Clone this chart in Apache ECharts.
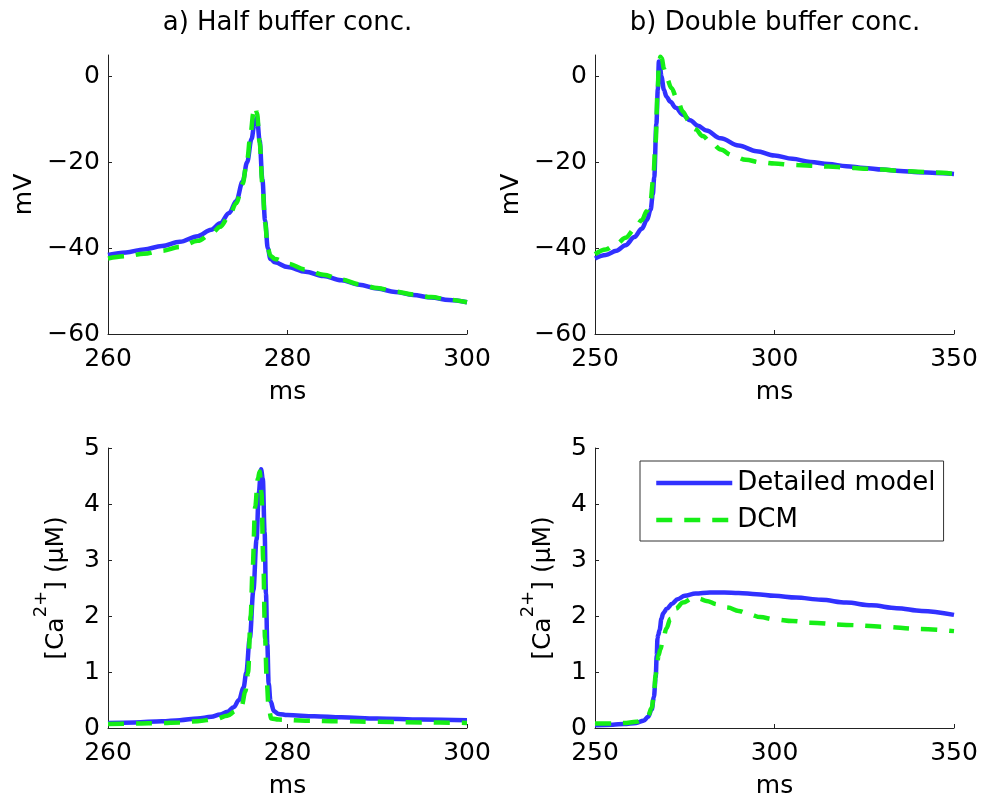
<!DOCTYPE html>
<html>
<head>
<meta charset="utf-8">
<script src="https://cdn.jsdelivr.net/npm/echarts@6/dist/echarts.min.js"></script>
<style>
  html, body { margin: 0; padding: 0; background: #ffffff; }
  #chart { width: 983px; height: 803px; }
</style>
</head>
<body>
<div id="chart"></div>
<script>
// ---- a) Half buffer concentration: membrane potential (mV) ----
const tHalfVDetailed = [260, 262, 264, 266, 268, 270, 271.5, 272.5, 273.5, 274.3, 275, 275.5, 276, 276.3, 276.6, 276.9, 277.2, 277.5, 277.8, 278.1, 278.6, 280, 282, 284, 286, 288, 290, 292, 294, 296, 298, 300];
const vHalfDetailed  = [-41.6, -41.0, -40.3, -39.5, -38.5, -37.2, -35.7, -34.2, -31.8, -29.0, -24.5, -20.0, -14.5, -11.3, -9.6, -15.0, -24.0, -33.5, -40.0, -42.5, -43.3, -44.4, -45.5, -46.5, -47.5, -48.5, -49.4, -50.2, -50.9, -51.5, -52.1, -52.6];
const tHalfVDCM = [260, 262, 264, 266, 268, 270, 271.5, 272.5, 273.5, 274.3, 275, 275.5, 275.9, 276.2, 276.4, 276.6, 276.9, 277.2, 277.5, 277.8, 278.1, 278.6, 280, 282, 284, 286, 288, 290, 292, 294, 296, 298, 300];
const vHalfDCM  = [-42.4, -41.9, -41.3, -40.6, -39.7, -38.3, -36.7, -35.0, -32.5, -29.5, -25.0, -19.5, -13.0, -8.5, -7.0, -8.5, -15.5, -25.0, -34.0, -40.0, -41.8, -42.5, -43.6, -45.0, -46.2, -47.3, -48.4, -49.3, -50.1, -50.8, -51.4, -52.0, -52.6];

// ---- b) Double buffer concentration: membrane potential (mV) ----
const tDoubleVDetailed = [250, 253, 256, 258.5, 261, 263, 264.5, 265.5, 266.1, 266.5, 267.1, 267.5, 267.8, 268.1, 268.5, 269.2, 269.9, 271, 272.5, 274.5, 276.5, 278.7, 281, 285, 290, 295, 300, 305, 310, 315, 320, 325, 330, 335, 340, 345, 350];
const vDoubleDetailed  = [-42.4, -41.6, -40.6, -39.3, -37.4, -35.5, -33.4, -31.0, -27.5, -23.5, -11.0, -3.0, 3.5, 2.2, 0.0, -3.1, -4.7, -5.9, -7.3, -8.9, -10.2, -11.5, -12.6, -14.4, -16.1, -17.4, -18.4, -19.2, -19.9, -20.4, -20.9, -21.3, -21.7, -22.0, -22.3, -22.5, -22.7];
const tDoubleVDCM = [250, 253, 256, 258.5, 261, 263, 264.5, 265.5, 266.2, 266.9, 267.4, 267.8, 268.2, 268.6, 269.2, 270, 271.3, 273, 274.5, 276, 278, 280, 282.5, 285, 288, 292, 296, 300, 305, 310, 315, 320, 325, 330, 335, 340, 345, 350];
const vDoubleDCM  = [-41.4, -40.3, -39.0, -37.6, -35.6, -33.5, -31.3, -28.8, -24.0, -15.0, -4.0, 2.5, 4.6, 4.2, 1.8, -0.5, -2.7, -5.6, -8.2, -10.2, -12.3, -13.9, -15.6, -17.0, -18.3, -19.4, -20.0, -20.3, -20.6, -20.8, -21.0, -21.2, -21.5, -21.7, -22.0, -22.2, -22.4, -22.7];

// ---- a) Half buffer concentration: [Ca2+] (uM) ----
const tHalfCaDetailed = [260, 263, 266, 268, 270, 271.5, 272.5, 273.3, 274, 274.6, 275.1, 275.4, 275.8, 276.2, 276.55, 276.8, 277.05, 277.25, 277.45, 277.6, 277.75, 277.9, 278.1, 278.5, 279, 280, 283, 286, 290, 295, 300];
const caHalfDetailed  = [0.09, 0.10, 0.12, 0.14, 0.17, 0.20, 0.24, 0.29, 0.37, 0.50, 0.72, 0.98, 1.60, 2.46, 3.36, 4.20, 4.62, 4.45, 3.50, 2.40, 1.50, 0.80, 0.48, 0.30, 0.25, 0.23, 0.21, 0.19, 0.17, 0.15, 0.14];
const tHalfCaDCM = [260, 263, 266, 268, 270, 272, 273.3, 274.2, 274.9, 275.3, 275.6, 275.9, 276.1, 276.4, 276.7, 276.9, 277.1, 277.3, 277.5, 277.7, 277.9, 278.2, 279, 282, 286, 290, 295, 300];
const caHalfDCM  = [0.07, 0.08, 0.09, 0.10, 0.12, 0.16, 0.22, 0.30, 0.40, 0.65, 0.98, 2.00, 2.80, 3.95, 4.45, 4.58, 4.20, 3.00, 1.60, 0.80, 0.35, 0.17, 0.15, 0.13, 0.12, 0.11, 0.10, 0.09];

// ---- b) Double buffer concentration: [Ca2+] (uM) ----
const tDoubleCaDetailed = [250, 255, 258, 261.5, 263.5, 264.8, 265.8, 266.4, 266.9, 267.2, 267.4, 267.6, 268, 268.5, 269, 270, 271.5, 273, 275, 278, 282, 286, 290, 295, 300, 306, 313, 320, 327, 334, 341, 350];
const caDoubleDetailed  = [0.05, 0.06, 0.07, 0.09, 0.13, 0.20, 0.33, 0.55, 0.90, 1.30, 1.60, 1.66, 1.75, 1.95, 2.05, 2.13, 2.22, 2.30, 2.36, 2.40, 2.42, 2.42, 2.41, 2.39, 2.36, 2.33, 2.29, 2.24, 2.19, 2.14, 2.09, 2.02];
const tDoubleCaDCM = [250, 255, 258, 261.5, 263.5, 264.8, 265.8, 266.4, 266.9, 267.3, 267.7, 268.2, 269, 269.9, 271, 272.5, 274.5, 277.3, 279, 281, 284, 287, 290, 293, 296, 300, 305, 310, 320, 330, 340, 350];
const caDoubleDCM  = [0.08, 0.08, 0.09, 0.11, 0.15, 0.22, 0.36, 0.60, 0.95, 1.15, 1.30, 1.40, 1.60, 1.78, 1.95, 2.13, 2.24, 2.32, 2.31, 2.27, 2.21, 2.15, 2.09, 2.03, 1.98, 1.94, 1.91, 1.88, 1.84, 1.81, 1.77, 1.73];

// ---- tick labels ----
const ticksHalfMs   = [260, 280, 300];
const ticksDoubleMs = [250, 300, 350];
const ticksMv       = [-60, -40, -20, 0];
const ticksCa       = [0, 1, 2, 3, 4, 5];

const seriesNames = ['Detailed model', 'DCM'];
const panelTitles = ['a) Half buffer conc.', 'b) Double buffer conc.'];

const FONT = 'DejaVu Sans';
const AXIS_COLOR = '#222222';
const BLUE = '#3131ff';
const GREEN = '#16ee16';
const LINE_W = 4.5;
const DASH = [16, 12];

const zip = (xs, ys) => xs.map((x, i) => [x, ys[i]]);
const minusSign = v => String(v).replace('-', '\u2212');

function grid(left, top, height) {
  return { left, top, width: 359, height, containLabel: false, outerBoundsMode: 'none' };
}

function xAxis(gridIndex, min, max, ticks) {
  return {
    type: 'value', gridIndex, min, max,
    name: 'ms', nameLocation: 'middle', nameGap: 46, nameMoveOverlap: false,
    nameTextStyle: { fontSize: 25, fontFamily: FONT, color: '#000' },
    axisLine: { show: true, onZero: false, lineStyle: { color: AXIS_COLOR, width: 1 } },
    axisTick: { show: true, inside: true, length: 4, customValues: ticks, lineStyle: { color: AXIS_COLOR, width: 1 } },
    axisLabel: { customValues: ticks, margin: 13, fontSize: 25, fontFamily: FONT, color: '#000', formatter: minusSign },
    splitLine: { show: false }
  };
}

function yAxis(gridIndex, min, max, ticks, name, nameGap, rich) {
  return {
    type: 'value', gridIndex, min, max,
    name, nameLocation: 'middle', nameGap, nameMoveOverlap: false,
    nameTextStyle: Object.assign({ fontSize: 25, fontFamily: FONT, color: '#000' }, rich || {}),
    axisLine: { show: true, onZero: false, lineStyle: { color: AXIS_COLOR, width: 1 } },
    axisTick: { show: true, inside: true, length: 4, customValues: ticks, lineStyle: { color: AXIS_COLOR, width: 1 } },
    axisLabel: { customValues: ticks, margin: 8, fontSize: 25, fontFamily: FONT, color: '#000', formatter: minusSign },
    splitLine: { show: false }
  };
}

// [Ca2+] label with a raised "2+"
const caName = '[Ca{sup|2+}] (\u03bcM)';
const caRich = {
  lineHeight: 49,
  rich: {
    sup: { fontSize: 18, fontFamily: FONT, color: '#000', lineHeight: 18, verticalAlign: 'top' }
  }
};

function line(name, idx, data, dashed) {
  return {
    type: 'line', name, xAxisIndex: idx, yAxisIndex: idx,
    data, symbol: 'none', showSymbol: false, smooth: 0.35, smoothMonotone: 'x',
    clip: true, z: dashed ? 3 : 2,
    lineStyle: { color: dashed ? GREEN : BLUE, width: LINE_W, type: dashed ? DASH : 'solid', cap: 'butt' },
    itemStyle: { color: dashed ? GREEN : BLUE },
    emphasis: { disabled: true }
  };
}

const chart = echarts.init(document.getElementById('chart'), null, { renderer: 'canvas' });

chart.setOption({
  animation: false,
  backgroundColor: '#ffffff',
  grid: [
    grid(108, 55, 279),
    grid(595, 55, 279),
    grid(108, 448, 280),
    grid(595, 448, 280)
  ],
  xAxis: [
    xAxis(0, 260, 300, ticksHalfMs),
    xAxis(1, 250, 350, ticksDoubleMs),
    xAxis(2, 260, 300, ticksHalfMs),
    xAxis(3, 250, 350, ticksDoubleMs)
  ],
  yAxis: [
    yAxis(0, -60, 5, ticksMv, 'mV', 71),
    yAxis(1, -60, 5, ticksMv, 'mV', 71),
    yAxis(2, 0, 5, ticksCa, caName, 27, caRich),
    yAxis(3, 0, 5, ticksCa, caName, 27, caRich)
  ],
  legend: {
    data: seriesNames,
    orient: 'vertical',
    left: 640, top: 461,
    padding: [9, 8, 8, 14],
    itemWidth: 76, itemHeight: 26, itemGap: 11,
    borderColor: '#333333', borderWidth: 1, borderRadius: 0,
    backgroundColor: '#ffffff',
    selectedMode: false,
    // keep only the line sample in each legend entry
    itemStyle: { opacity: 0, borderWidth: 0 },
    lineStyle: { width: LINE_W },
    textStyle: { fontSize: 26, fontFamily: FONT, color: '#000', lineHeight: 26 }
  },
  graphic: [
    { type: 'text', x: 287.5, y: 23, style: { text: panelTitles[0], fontSize: 26, fontFamily: FONT, fill: '#000', align: 'center', verticalAlign: 'middle' } },
    { type: 'text', x: 775, y: 23, style: { text: panelTitles[1], fontSize: 26, fontFamily: FONT, fill: '#000', align: 'center', verticalAlign: 'middle' } }
  ],
  series: [
    line(seriesNames[0], 0, zip(tHalfVDetailed, vHalfDetailed), false),
    line(seriesNames[1], 0, zip(tHalfVDCM, vHalfDCM), true),
    line(seriesNames[0], 1, zip(tDoubleVDetailed, vDoubleDetailed), false),
    line(seriesNames[1], 1, zip(tDoubleVDCM, vDoubleDCM), true),
    line(seriesNames[0], 2, zip(tHalfCaDetailed, caHalfDetailed), false),
    line(seriesNames[1], 2, zip(tHalfCaDCM, caHalfDCM), true),
    line(seriesNames[0], 3, zip(tDoubleCaDetailed, caDoubleDetailed), false),
    line(seriesNames[1], 3, zip(tDoubleCaDCM, caDoubleDCM), true)
  ]
});
</script>
</body>
</html>
